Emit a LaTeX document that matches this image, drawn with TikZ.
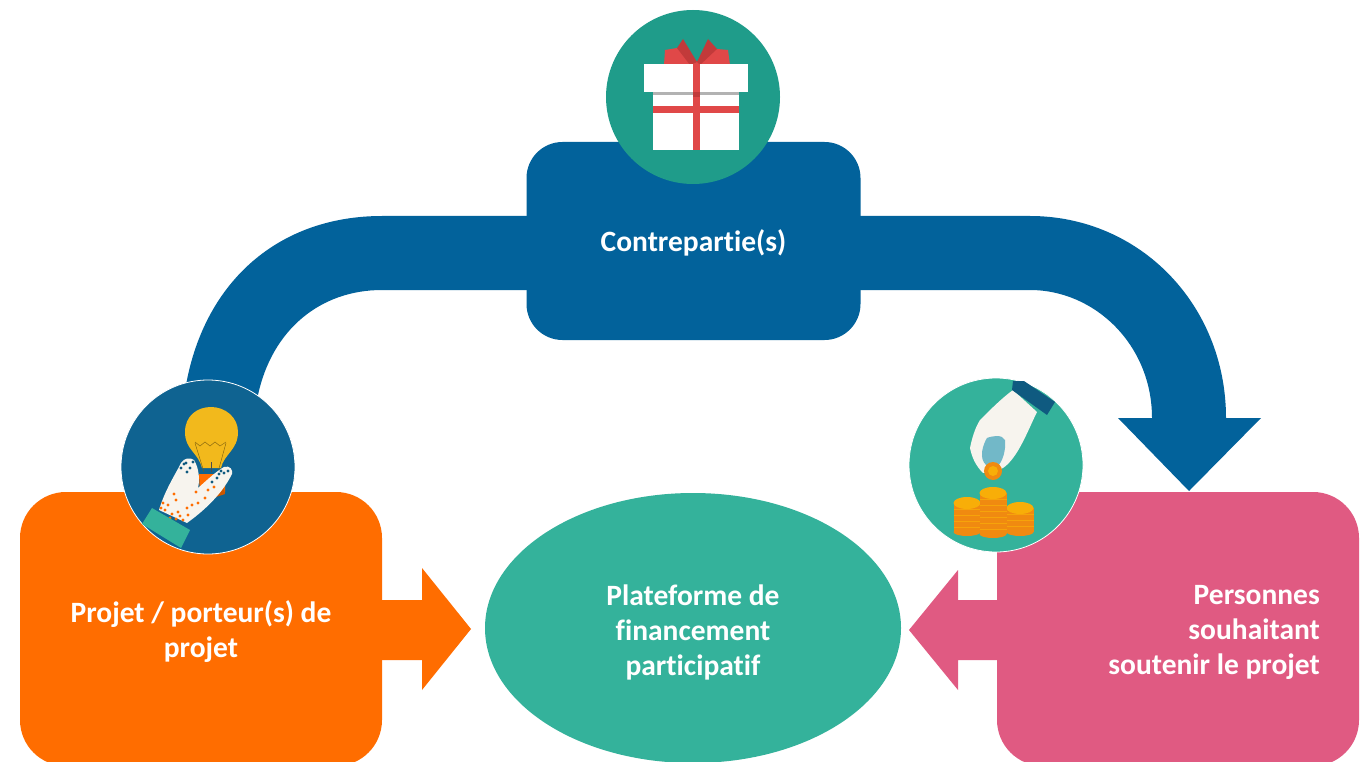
\documentclass[tikz,border=0pt]{standalone}
\usepackage{fontspec}
\setmainfont[Ligatures=NoCommon]{Carlito}
\usetikzlibrary{shapes.geometric}
\definecolor{bluebar}{HTML}{02629B}
\definecolor{orangebox}{HTML}{FF6D00}
\definecolor{pinkbox}{HTML}{E05A82}
\definecolor{tealell}{HTML}{34B29B}
\definecolor{tealdark}{HTML}{1F9C8A}
\definecolor{bluecirc}{HTML}{0F6391}
\definecolor{giftred}{HTML}{E04848}
\definecolor{giftdark}{HTML}{C23A3A}
\definecolor{bulb}{HTML}{F2B91C}
\definecolor{coin}{HTML}{F08A10}
\definecolor{coinlt}{HTML}{F8AE08}
\definecolor{cuff}{HTML}{0F5A80}
\definecolor{palm}{HTML}{72B8C8}
\definecolor{glove}{HTML}{F7F4EE}
\tikzset{
  boxbase/.style={rectangle,rounded corners=#1,inner sep=0pt},
  circ/.style={circle,inner sep=0pt,minimum size=174pt,draw=white,line width=.8pt},
  lbl/.style={text=white,font=\fontsize{29.5}{35}\selectfont\bfseries,inner sep=0pt}
}
\begin{document}
\begin{tikzpicture}[x=1pt,y=-1pt]
\useasboundingbox (0,0) rectangle (1365,762);
\clip (0,0) rectangle (1365,762);
\fill[white] (0,0) rectangle (1365,762);
% boxes
\node[boxbase=36pt,fill=bluebar,minimum width=334pt,minimum height=198pt] (contre) at (693.5,241) {};
\node[boxbase=46pt,fill=orangebox,minimum width=362pt,minimum height=274pt] (projet) at (201,629) {};
\node[boxbase=46pt,fill=pinkbox,minimum width=362pt,minimum height=274pt] (pers) at (1178,629) {};
\node[ellipse,fill=tealell,minimum width=416pt,minimum height=270pt,inner sep=0pt] (plat) at (693,628) {};
% labels
\node[lbl] (tc) at (693.5,243) {Contrepartie(s)};
\node[lbl,align=center] (tp) at (201,632) {Projet / porteur(s) de\\projet};
\node[lbl,align=center] (tf) at (693,632) {Plateforme de\\financement\\participatif};
\node[lbl,align=right,anchor=east] (ts) at (1320,632) {Personnes\\souhaitant\\soutenir le projet};
% small arrows
\coordinate (otip) at (471,629);
\coordinate (ptip) at (909,630);
\fill[orangebox] ([xshift=-2pt]projet.east |- 0,600) -- (422,600) -- (422,568) -- (otip) -- (422,690) -- (422,660) -- ([xshift=-2pt]projet.east |- 0,660) -- cycle;
\fill[pinkbox] ([xshift=2pt]pers.west |- 0,600) -- (958,600) -- (958,570) -- (ptip) -- (958,690) -- (958,660) -- ([xshift=2pt]pers.west |- 0,660) -- cycle;
% big curved band, left
\fill[bluebar] ([xshift=2pt]contre.west |- 0,216) -- (382,216) .. controls (280,216) and (205,280) .. (186,385)
  -- (258,395) .. controls (272,330) and (320,290) .. (382,290) -- ([xshift=2pt]contre.west |- 0,290) -- cycle;
% big curved band, right with arrow head
\coordinate (tip) at (1189,491);
\fill[bluebar] ([xshift=-2pt]contre.east |- 0,216) -- (1030,216) .. controls (1140,216) and (1226,305) .. (1226,418)
  -- (1261,418) -- (tip) -- (1118,418) -- (1152,418) .. controls (1152,345) and (1095,290) .. (1030,290)
  -- ([xshift=-2pt]contre.east |- 0,290) -- cycle;
% gift circle
\node[circ,fill=tealdark,draw=none] (cg) at (693,97) {};
\fill[giftred] (664,65) -- (665,50) -- (677,48) -- (697,62) -- (717,49) -- (728,50) -- (730,65) -- cycle;
\fill[giftdark] (677,48) -- (683,39) -- (697,62) -- (690,65) -- cycle;
\fill[giftdark] (708,39) -- (717,49) -- (700,65) -- (697,62) -- cycle;
\fill[white] (653,92) rectangle (739,150);
\fill[white] (644,64) rectangle (748,92);
\fill[black!30] (653,92) rectangle (739,95);
\fill[giftred] (653,106) rectangle (739,113);
\fill[giftred] (693,64) rectangle (700,150);
\fill[giftdark] (693,92) rectangle (700,97);
% bulb circle
\node[circ,fill=bluecirc] (cb) at (208,467) {};
\fill[bulb] (202,468) .. controls (198,452) and (185,450) .. (185,432)
  .. controls (185,416) and (197,407) .. (211,407)
  .. controls (225,407) and (238,417) .. (238,432)
  .. controls (238,450) and (224,454) .. (221,468) -- cycle;
\draw[black!50!bulb,line width=.4pt] (195,442) -- (200,446) -- (205,442) -- (210,446) -- (215,442) -- (220,446) -- (226,442);
\draw[black!50!bulb,line width=.4pt] (195,443) -- (204,472) (226,443) -- (218,472);
\draw[black!70,line width=1pt] (211,462) -- (211,472);
\fill[orangebox] (199,474) -- (225,474) -- (225,492) -- (200,495) -- cycle;
\fill[orangebox!80!black] (215,488) -- (224,486) -- (225,494) -- (213,498) -- cycle;
\fill[glove] (159,510) .. controls (165,490) and (175,475) .. (181,463)
  .. controls (184,458) and (190,457) .. (194,460)
  .. controls (199,468) and (200,480) .. (198,488)
  .. controls (205,482) and (215,472) .. (224,467)
  .. controls (230,465) and (233,470) .. (232,474)
  .. controls (225,488) and (212,505) .. (187,523) -- cycle;
\foreach \x/\y/\c in {184/464/cuff,190/468/cuff,187/472/cuff,217/478/cuff,224/473/cuff,221/471/cuff,228/471/cuff,193/462/cuff,186/463/cuff,181/468/cuff,212/482/cuff,219/474/cuff,
  165/510/orangebox,172/514/orangebox,180/516/orangebox,168/505/orangebox,187/508/orangebox,192/505/orangebox,176/500/orangebox,196/492/orangebox,208/490/orangebox,205/498/orangebox,183/520/orangebox,174/494/orangebox,161/508/orangebox,170/518/orangebox,176/519/orangebox,163/503/orangebox,198/503/orangebox,188/515/orangebox,214/487/orangebox,178/512/orangebox}
  \fill[\c] (\x,\y) circle (1.6pt);
\fill[tealell] (152,508) -- (190,530) -- (181,548) -- (142,524) -- cycle;
% coin circle
\node[circ,fill=tealell] (cc) at (996,465) {};
\fill[glove] (1013,390) -- (1037,412) .. controls (1028,430) and (1018,458) .. (1003,468)
  -- (993,472) -- (983,473) .. controls (976,466) and (972,458) .. (970,448)
  .. controls (972,438) and (975,428) .. (980,420) .. controls (990,410) and (1002,398) .. (1013,390) -- cycle;
\fill[cuff] (1013,381) -- (1024,381) -- (1055,402) -- (1047,415) -- (1012,390) -- cycle;
\fill[palm] (987,438) .. controls (992,436) and (1002,434) .. (1005,440)
  .. controls (1006,450) and (1003,462) .. (996,468) .. controls (988,468) and (981,464) .. (982,452) .. controls (983,446) and (985,441) .. (987,438) -- cycle;
\fill[coin] (993,471) circle (9pt);
\fill[coinlt] (993,471) circle (5pt);
\foreach \x/\t/\b in {967/503/532,1020/508/532,993/493/534}{
  \fill[coin] (\x-13.5,\t) rectangle (\x+13.5,\b);
  \fill[coin] (\x,\b) ellipse (13.5pt and 4pt);
  \foreach \yy in {6,12,...,36}{\ifnum\numexpr\t+\yy<\b \draw[coinlt!70!coin,line width=.5pt] (\x-13.5,\t+\yy) -- (\x+13.5,\t+\yy);\fi}
  \fill[coinlt] (\x,\t) ellipse (13.5pt and 6pt);
}
\end{tikzpicture}
\end{document}
